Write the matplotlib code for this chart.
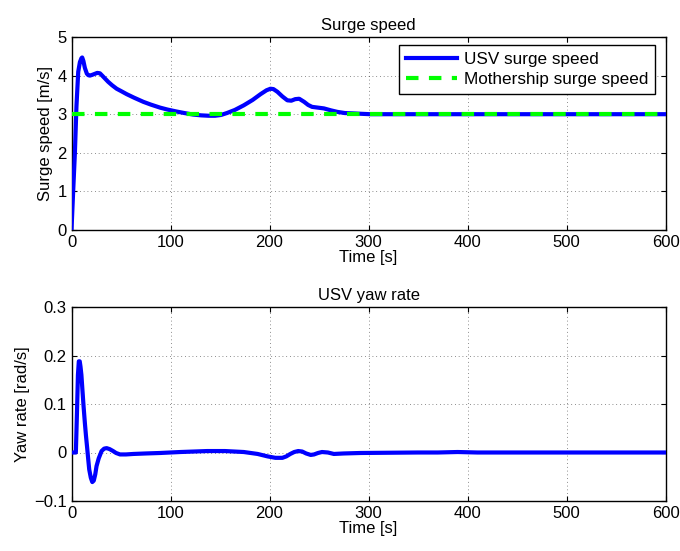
import numpy as np
import matplotlib.pyplot as plt

# Surge speed of the USV
surge_t = [0, 1.5, 3.4, 5.0, 6.8, 8.5, 10.0, 10.8, 12, 13.5, 15.5, 17, 18.6, 21, 23, 26, 28.7, 31,
           34, 37, 41, 45.6, 50, 55.7, 63, 72.6, 80, 89.5, 97, 106, 114, 123, 131, 138.5,
           145, 151, 157, 165, 174, 183, 191, 197, 201, 204, 208, 213, 218, 222, 226, 230,
           235, 239, 243, 249, 255, 262, 268.6, 276, 285, 293, 302, 320, 350, 400, 450,
           500, 550, 600]
surge_v = [0, 0.9, 1.98, 3.2, 4.1, 4.35, 4.45, 4.47, 4.38, 4.2, 4.05, 4.01, 4.0, 4.02, 4.04, 4.07,
           4.06, 4.0, 3.92, 3.84, 3.75, 3.66, 3.6, 3.52, 3.43, 3.32, 3.25, 3.17, 3.12, 3.07,
           3.03, 2.99, 2.97, 2.96, 2.96, 2.98, 3.03, 3.11, 3.23, 3.37, 3.52, 3.62, 3.66, 3.65,
           3.58, 3.46, 3.36, 3.35, 3.39, 3.40, 3.32, 3.24, 3.19, 3.17, 3.15, 3.10, 3.06, 3.03,
           3.02, 3.01, 3.0, 3.0, 3.0, 3.0, 3.0, 3.0, 3.0, 3.0]

# Mothership reference speed
mother_t = [0, 600]
mother_v = [3.0, 3.0]

# Yaw rate of the USV
yaw_t = [0, 4.4, 5.5, 6.5, 7.4, 8.3, 9.1, 10, 11, 12.2, 13.5, 14.6, 15.8, 16.8, 17.9, 19.5, 21,
         22.5, 24, 25.3, 27.5, 30.4, 33, 35.5, 38.5, 42, 45, 49, 55, 62.5, 75, 89.5, 110, 137,
         155, 174, 188, 198, 206, 213, 217, 221, 225, 229, 233, 237, 241.6, 245, 249, 253,
         259, 265, 275, 292, 350, 370, 390, 410, 600]
yaw_r = [0, 0, 0.08, 0.16, 0.188, 0.188, 0.177, 0.16, 0.13, 0.095, 0.061, 0.035, 0.01, -0.012,
         -0.035, -0.052, -0.061, -0.058, -0.045, -0.028, -0.012, 0.003, 0.008, 0.009, 0.007,
         0.003, -0.001, -0.004, -0.004, -0.003, -0.002, -0.001, 0.001, 0.003, 0.003, 0.001,
         -0.003, -0.008, -0.011, -0.011, -0.008, -0.003, 0.001, 0.003, 0.002, -0.002, -0.005,
         -0.004, -0.001, 0.001, 0.0, -0.003, -0.002, -0.001, 0.0, 0.0, 0.001, 0.0, 0.0]

plt.rcParams.update({
    "font.family": ["Liberation Sans", "DejaVu Sans"],
    "font.size": 12,
    "xtick.labelsize": 12,
    "ytick.labelsize": 12,
    "xtick.direction": "in",
    "ytick.direction": "in",
    "xtick.top": True,
    "ytick.right": True,
})

fig = plt.figure(figsize=(6.8, 5.51), dpi=100)
ax1 = fig.add_axes([71.5 / 680, 1 - 230 / 551, 594 / 680, 193 / 551])
ax2 = fig.add_axes([71.5 / 680, 1 - 501 / 551, 594 / 680, 194 / 551])

blue = (0, 0, 1)
green = (0, 1, 0)

ax1.plot(surge_t, surge_v, color=blue, linewidth=3, label="USV surge speed", zorder=3,
         solid_joinstyle="round")
ax1.plot(mother_t, mother_v, color=green, linewidth=3, linestyle=(0, (3, 2.5)),
         label="Mothership surge speed", zorder=4)
ax1.set_xlim(0, 600)
ax1.set_ylim(0, 5)
ax1.set_xticks(np.arange(0, 601, 100))
ax1.set_yticks(np.arange(0, 6, 1))
ax1.set_title("Surge speed", fontsize=12, pad=5)
ax1.set_xlabel("Time [s]", labelpad=0)
ax1.set_ylabel("Surge speed [m/s]", labelpad=3)
leg = ax1.legend(loc="upper right", fancybox=False, framealpha=1, edgecolor="black",
                 fontsize=12.3, handlelength=3.0, handletextpad=0.4, borderpad=0.4,
                 labelspacing=0.3, borderaxespad=0, bbox_to_anchor=(0.982, 0.96))
leg.get_frame().set_linewidth(1.0)

ax2.plot(yaw_t, yaw_r, color=blue, linewidth=3, zorder=3, solid_joinstyle="round")
ax2.set_xlim(0, 600)
ax2.set_ylim(-0.1, 0.3)
ax2.set_xticks(np.arange(0, 601, 100))
ax2.set_yticks([-0.1, 0, 0.1, 0.2, 0.3])
ax2.set_yticklabels(["\u22120.1", "0", "0.1", "0.2", "0.3"])
ax2.set_title("USV yaw rate", fontsize=12, pad=5)
ax2.set_xlabel("Time [s]", labelpad=0)
ax2.set_ylabel("Yaw rate [rad/s]", labelpad=3)

for ax in (ax1, ax2):
    ax.grid(True, linestyle=(0, (1, 3.5)), color="black", linewidth=0.6, alpha=0.6)
    for sp in ax.spines.values():
        sp.set_linewidth(1.0)

fig.savefig("out.png", dpi=100, facecolor="white")
